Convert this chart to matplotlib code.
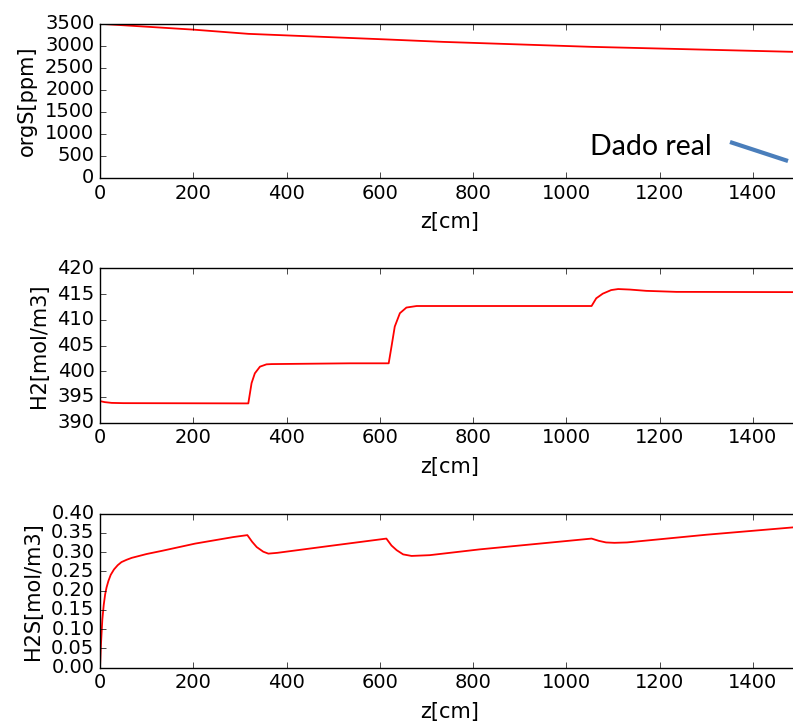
#!/usr/bin/env python3

import matplotlib
matplotlib.use("Agg")
import matplotlib.pyplot as plt
from matplotlib.lines import Line2D

# perfis ao longo do reator (z em cm)
z_orgs = [0, 200, 318, 619, 735, 1054, 1500]
orgs = [3500, 3368, 3272, 3143, 3090, 2977, 2860]

z_h2 = [0, 10, 25, 50, 318, 325, 332, 343, 357, 368, 536, 619, 625, 632,
        643, 657, 679, 800, 1054, 1064, 1078, 1096, 1111, 1136, 1171, 1236, 1500]
h2 = [394.2, 394.0, 393.85, 393.8, 393.75, 397.7, 399.6, 400.9, 401.35, 401.4,
      401.55, 401.55, 404.8, 408.7, 411.3, 412.4, 412.7, 412.7, 412.7, 414.2,
      415.1, 415.8, 416.0, 415.9, 415.65, 415.45, 415.4]

z_h2s = [0, 2, 5, 8, 11, 14, 18, 23, 30, 38, 46, 57, 68, 100, 132, 204, 286,
         316, 326, 336, 350, 361, 380, 493, 614, 625, 636, 650, 668, 707, 814,
         1054, 1070, 1085, 1103, 1130, 1300, 1500]
h2s = [0.0, 0.059, 0.125, 0.163, 0.190, 0.208, 0.225, 0.241, 0.255, 0.266,
       0.274, 0.280, 0.285, 0.295, 0.303, 0.322, 0.339, 0.344, 0.327, 0.313,
       0.301, 0.296, 0.298, 0.316, 0.335, 0.317, 0.305, 0.294, 0.290, 0.292,
       0.307, 0.335, 0.329, 0.325, 0.324, 0.325, 0.345, 0.3655]

plt.style.use('classic')
plt.rcParams['xtick.labelsize'] = 14
plt.rcParams['ytick.labelsize'] = 14
plt.rcParams['axes.labelsize'] = 15
plt.rcParams['lines.linewidth'] = 1.3

fig = plt.figure(figsize=(7.93, 7.28), dpi=100, facecolor='white')

left, width, height = 0.1261, 0.8822, 0.2118
ax1 = fig.add_axes([left, 0.7555, width, height])
ax2 = fig.add_axes([left, 0.4194, width, height])
ax3 = fig.add_axes([left, 0.0828, width, height])

ax1.plot(z_orgs, orgs, 'r-')
ax1.set_ylim(0, 3500)
ax1.set_yticks(range(0, 3501, 500))
ax1.set_ylabel("orgS[ppm]")

ax2.plot(z_h2, h2, 'r-')
ax2.set_ylim(390, 420)
ax2.set_yticks(range(390, 421, 5))
ax2.set_ylabel("H2[mol/m3]")

ax3.plot(z_h2s, h2s, 'r-')
ax3.set_ylim(0, 0.40)
ax3.set_yticks([i * 0.05 for i in range(9)])
ax3.set_yticklabels(["%.2f" % (i * 0.05) for i in range(9)])
ax3.set_ylabel("H2S[mol/m3]")

for ax in (ax1, ax2, ax3):
    ax.set_xlim(0, 1500)
    ax.set_xticks(range(0, 1401, 200))
    ax.set_xlabel("z[cm]", labelpad=7)
    ax.set_facecolor('white')
    ax.yaxis.labelpad = 6

# anotacao
fig.text(651 / 793, 1 - 155 / 728, "Dado real", family="Lato", fontsize=20.5,
         ha='center', va='baseline', color='black')
fig.add_artist(Line2D([730 / 793, 788 / 793], [1 - 142 / 728, 1 - 161 / 728],
                      transform=fig.transFigure, color='#4a7ebb', lw=3,
                      solid_capstyle='butt'))

fig.savefig("out.png", dpi=100, facecolor='white')

# EOF
